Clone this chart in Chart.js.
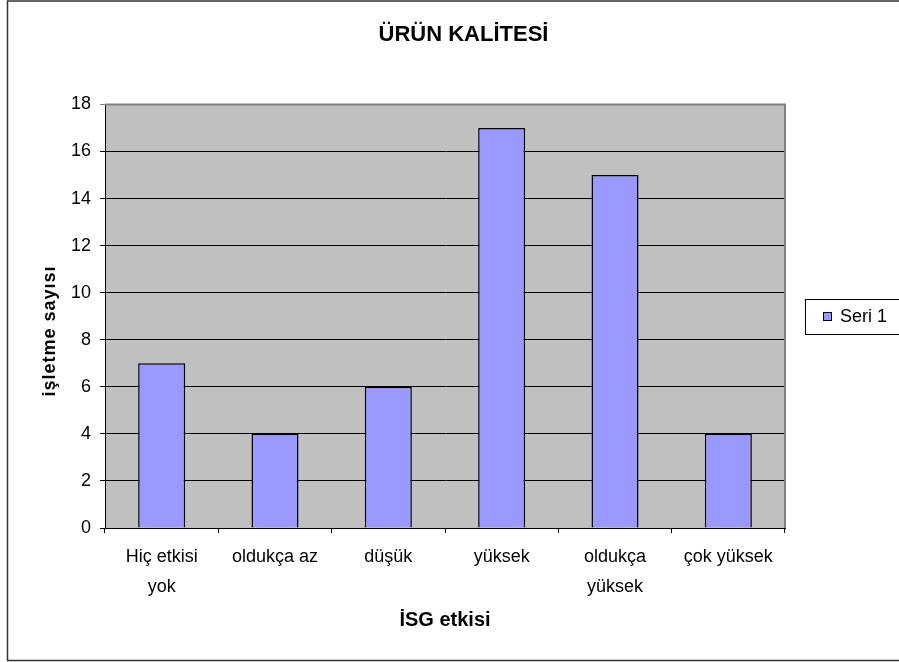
<!DOCTYPE html>
<html>
<head>
<meta charset="utf-8">
<script src="https://cdn.jsdelivr.net/npm/chart.js@4/dist/chart.umd.min.js"></script>
<style>
  html, body { margin: 0; padding: 0; background: #fff; }
  #c { display: block; }
</style>
</head>
<body>
<canvas id="c" width="899" height="662"></canvas>
<script>
const categories = [['Hiç etkisi', 'yok'], 'oldukça az', 'düşük', 'yüksek', ['oldukça', 'yüksek'], 'çok yüksek'];
const seri1 = [7, 4, 6, 17, 15, 4];
const seriesName = 'Seri 1';
const chartTitle = 'ÜRÜN KALİTESİ';
const xTitle = 'İSG etkisi';
const yTitle = 'işletme sayısı';

const FONT = 'Liberation Sans, Arial, sans-serif';
const barColor = '#9999FF';

// frame, grey plot area, custom legend and the y title
const excelLook = {
  id: 'excelLook',
  beforeDraw(chart) {
    const { ctx, chartArea: a } = chart;
    ctx.save();
    ctx.fillStyle = '#fff';
    ctx.fillRect(0, 0, chart.width, chart.height);
    ctx.fillStyle = '#C0C0C0';
    ctx.fillRect(a.left, a.top, a.right - a.left, a.bottom - a.top);
    ctx.strokeStyle = '#333';
    ctx.lineWidth = 1.5;
    ctx.beginPath();
    ctx.moveTo(chart.width, 1);
    ctx.lineTo(7.5, 1);
    ctx.lineTo(7.5, 660.5);
    ctx.lineTo(chart.width, 660.5);
    ctx.stroke();
    ctx.restore();
  },
  beforeDatasetsDraw(chart) {
    const { ctx, chartArea: a } = chart;
    ctx.save();
    ctx.strokeStyle = '#808080';
    ctx.lineWidth = 2;
    ctx.beginPath();
    ctx.moveTo(a.left, a.top);
    ctx.lineTo(a.right, a.top);
    ctx.lineTo(a.right, a.bottom);
    ctx.stroke();
    ctx.restore();
  },
  afterDraw(chart) {
    const { ctx } = chart;
    ctx.save();
    // legend
    ctx.strokeStyle = '#000';
    ctx.lineWidth = 1;
    ctx.strokeRect(805.5, 299.5, 120, 35);
    ctx.fillStyle = barColor;
    ctx.fillRect(823.5, 312.5, 8, 8);
    ctx.strokeRect(823.5, 312.5, 8, 8);
    ctx.fillStyle = '#000';
    ctx.font = '18px ' + FONT;
    ctx.textAlign = 'left';
    ctx.textBaseline = 'middle';
    ctx.fillText(chart.data.datasets[0].label, 840, 317);
    // y axis title
    ctx.translate(50, 331);
    ctx.rotate(-Math.PI / 2);
    ctx.font = 'bold 18px ' + FONT;
    if ('letterSpacing' in ctx) ctx.letterSpacing = '1px';
    ctx.textAlign = 'center';
    ctx.fillText(yTitle, 0, 0);
    ctx.restore();
  }
};

new Chart(document.getElementById('c'), {
  type: 'bar',
  data: {
    labels: categories,
    datasets: [{
      label: seriesName,
      data: seri1,
      backgroundColor: barColor,
      borderColor: '#000',
      borderWidth: 1.5,
      categoryPercentage: 1,
      barPercentage: 0.415
    }]
  },
  options: {
    responsive: false,
    animation: false,
    events: [],
    layout: { padding: { left: 28, right: 0, top: 0, bottom: 0 } },
    plugins: {
      legend: { display: false },
      tooltip: { enabled: false },
      title: {
        display: true,
        text: chartTitle,
        color: '#000',
        font: { family: FONT, size: 22, weight: 'bold' },
        padding: { top: 22, bottom: 56 }
      }
    },
    scales: {
      x: {
        offset: true,
        grid: {
          display: true,
          drawOnChartArea: false,
          offset: true,
          tickLength: 5,
          color: '#000'
        },
        border: { color: '#000', width: 1 },
        ticks: {
          color: '#000',
          font: { family: FONT, size: 18, lineHeight: 1.67 },
          padding: 9,
          maxRotation: 0,
          autoSkip: false
        },
        title: {
          display: true,
          text: xTitle,
          color: '#000',
          font: { family: FONT, size: 20, weight: 'bold' },
          padding: { top: 0, bottom: 30 }
        },
        afterFit(s) { s.height = 134; }
      },
      y: {
        min: 0,
        max: 18,
        grid: {
          color: c => (c.tick && c.tick.value === 18 ? '#808080' : '#000'),
          tickLength: 5,
          drawTicks: true
        },
        border: { color: '#000', width: 1 },
        ticks: {
          stepSize: 2,
          color: '#000',
          font: { family: FONT, size: 18 },
          padding: 9
        },
        afterFit(s) { s.width = 77; }
      },
      y2: {
        type: 'linear',
        position: 'right',
        grid: { display: false },
        border: { display: false },
        ticks: { display: false },
        afterFit(s) { s.width = 114; }
      }
    }
  },
  plugins: [excelLook]
});
</script>
</body>
</html>
